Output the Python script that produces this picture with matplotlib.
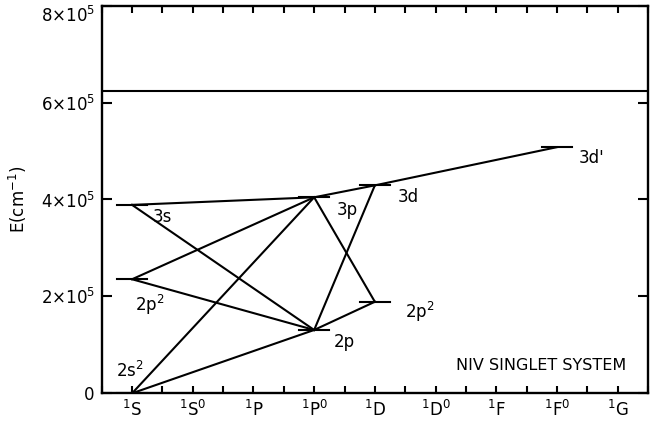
import matplotlib
matplotlib.use("Agg")
import matplotlib.pyplot as plt
import matplotlib.transforms as mtransforms
from matplotlib.ticker import MultipleLocator, FixedLocator

# term columns on the x axis
terms = ['$^1$S', '$^1$S$^0$', '$^1$P', '$^1$P$^0$', '$^1$D', '$^1$D$^0$',
         '$^1$F', '$^1$F$^0$', '$^1$G']

# NIV singlet levels: label, term column, energy (cm^-1)
level_labels = ['2s$^2$', '2p', '2p$^2$', '2p$^2$', '3s', '3p', '3d', "3d'"]
level_terms = [0, 3, 4, 0, 0, 3, 4, 7]
level_E = [0, 130694, 188885, 235369, 388855, 404522, 429160, 508000]

# transitions as (lower, upper) level indices
transitions = [(0, 1), (0, 5), (1, 2), (1, 6), (1, 3), (1, 4),
               (4, 5), (3, 5), (2, 5), (5, 6), (6, 7)]

ionisation = 624850
title = 'NIV SINGLET SYSTEM'

y_ticks = [0, 2e5, 4e5, 6e5, 8e5]
y_ticklabels = ['0', r'2$\times$10$^5$', r'4$\times$10$^5$',
                r'6$\times$10$^5$', r'8$\times$10$^5$']

# label offsets (dx in columns, E in cm^-1) - layout only
label_dx = [-0.26, 0.33, 0.5, 0.05, 0.34, 0.37, 0.37, 0.36]
label_dy = [46000, -24000, -22000, -54000, -24000, -26000, -23000, -23000]

plt.rcParams['mathtext.default'] = 'regular'

fig = plt.figure(figsize=(6.71, 4.28), dpi=100)
ax = fig.add_axes([0.1516, 0.0811, 0.8141, 0.9056])

xs = level_terms

lw = 1.5
for i, j in transitions:
    ax.plot([xs[i], xs[j]], [level_E[i], level_E[j]], color='black', lw=lw)
for x, e in zip(xs, level_E):
    ax.plot([x - 0.25, x + 0.25], [e, e], color='black', lw=lw)

ax.axhline(ionisation, color='black', lw=lw)

for k, lab in enumerate(level_labels):
    ax.text(xs[k] + label_dx[k], level_E[k] + label_dy[k], lab,
            fontsize=12, va='center', ha='left')

ax.text(5.33, 58000, title, fontsize=11.5, va='center', ha='left')

ax.set_xlim(-0.5, 8.5)
ax.set_ylim(0, 8e5)
ax.xaxis.set_major_locator(FixedLocator(range(len(terms))))
ax.set_xticklabels(terms)
ax.xaxis.set_minor_locator(MultipleLocator(0.5))
ax.set_yticks(y_ticks)
ax.set_yticklabels(y_ticklabels)
ax.tick_params(which='both', direction='in', top=True, right=True,
               width=1.5, labelsize=12)
ax.tick_params(axis='x', which='both', length=5, pad=5)
ax.tick_params(axis='y', which='major', length=7, pad=5)
ax.set_ylabel('E(cm$^{-1}$)', fontsize=12, labelpad=8)
for s in ax.spines.values():
    s.set_linewidth(1.7)

# push the top y label down so it stays inside the figure
top_lab = ax.get_yticklabels()[-1]
top_lab.set_transform(top_lab.get_transform() +
                      mtransforms.ScaledTranslation(0, -6 / 72, fig.dpi_scale_trans))

fig.savefig('out.png', dpi=100)
